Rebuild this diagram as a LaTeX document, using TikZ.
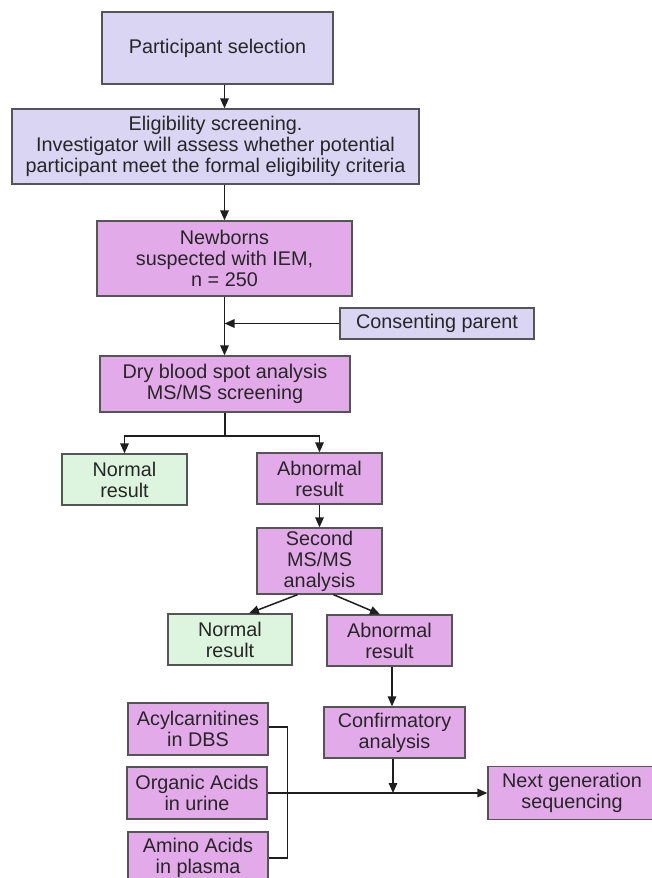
\documentclass[tikz,border=0pt]{standalone}
\usepackage{fontspec}
\setmainfont{Liberation Sans}
\usetikzlibrary{arrows.meta,calc}
\definecolor{lav}{RGB}{217,213,243}
\definecolor{pnk}{RGB}{227,170,233}
\definecolor{grn}{RGB}{221,245,222}
\definecolor{bord}{RGB}{85,85,85}
\definecolor{lin}{RGB}{30,30,30}
\begin{document}
\begin{tikzpicture}[x=1pt,y=-1pt,
  box/.style={draw=bord,line width=1.3pt,align=center,inner sep=0pt,
    font=\fontsize{19.8}{21}\selectfont,text=black!85},
  lbox/.style={box,fill=lav},
  pbox/.style={box,fill=pnk},
  gbox/.style={box,fill=grn},
  conn/.style={draw=lin,line width=1.5pt},
  arr/.style={conn,-{Triangle[length=10pt,width=8.5pt]}}]
\fill[white] (0,0) rectangle (652,878);
\useasboundingbox (0,0) rectangle (652,878);
\begin{scope}
\clip (0,0) rectangle (652,878);
\node[lbox,minimum width=231pt,minimum height=72pt] (ps) at (217.5,48) {Participant selection};
\node[lbox,minimum width=407pt,minimum height=75pt] (elig) at (215.5,146.5) {Eligibility screening.\\Investigator will assess whether potential\\participant meet the formal eligibility criteria};
\node[pbox,minimum width=255pt,minimum height=75pt] (newb) at (224.5,258.5) {Newborns\\suspected with IEM,\\n = 250};
\node[lbox,minimum width=194pt,minimum height=31pt] (cons) at (437,323.5) {Consenting parent};
\node[pbox,minimum width=250pt,minimum height=56pt] (dry) at (225,384) {Dry blood spot analysis\\MS/MS screening};
\node[gbox,minimum width=125pt,minimum height=51pt] (norm1) at (124.5,479.5) {Normal\\result};
\node[pbox,minimum width=125pt,minimum height=51pt] (abn1) at (319.5,478.5) {Abnormal\\result};
\node[pbox,minimum width=125pt,minimum height=66pt] (second) at (319.5,561) {Second\\MS/MS\\analysis};
\node[gbox,minimum width=124pt,minimum height=51pt] (norm2) at (230,639.5) {Normal\\result};
\node[pbox,minimum width=125pt,minimum height=51pt] (abn2) at (389.5,640.5) {Abnormal\\result};
\node[pbox,minimum width=141pt,minimum height=51pt] (conf) at (394.5,732.5) {Confirmatory\\analysis};
\node[pbox,minimum width=140pt,minimum height=52pt] (acyl) at (198,729) {Acylcarnitines\\in DBS};
\node[pbox,minimum width=140pt,minimum height=52pt] (org) at (197,793) {Organic Acids\\in urine};
\node[pbox,minimum width=140pt,minimum height=52pt] (amino) at (198,858) {Amino Acids\\in plasma};
\node[pbox,minimum width=168pt,minimum height=53pt] (ngs) at (572,793) {Next generation\\sequencing};
\coordinate (split) at (225,436);
\coordinate (join) at (393,793);

\draw[arr] (ps.south -| newb.north) -- (elig.north -| newb.north);
\draw[arr] (elig.south -| newb.north) -- (newb.north);
\draw[arr] (newb.south) -- (dry.north -| newb.south);
\draw[arr] (cons.west) -- (cons.west -| newb.south);
\draw[conn] (dry.south) -- (split);
\draw[arr] (split) -| (norm1.north);
\draw[arr] (split) -| (abn1.north);
\draw[arr] (abn1.south) -- (second.north);
\draw[arr] ($(second.south)+(-22,0)$) -- ($(norm2.north)+(19,0)$);
\draw[arr] ($(second.south)+(14,0)$) -- ($(abn2.north)+(-9.5,0)$);
\draw[arr] ($(abn2.south)+(2.5,0)$) -- ($(conf.north)+(-2.5,0)$);
\draw[arr] ($(conf.south)+(-1.5,0)$) -- (join);
\draw[arr] (org.east) -- (ngs.west);
\draw[conn] ($(acyl.east)+(0,-2)$) -- ++(19,0) |- (amino.east);
\end{scope}
\end{tikzpicture}
\end{document}
